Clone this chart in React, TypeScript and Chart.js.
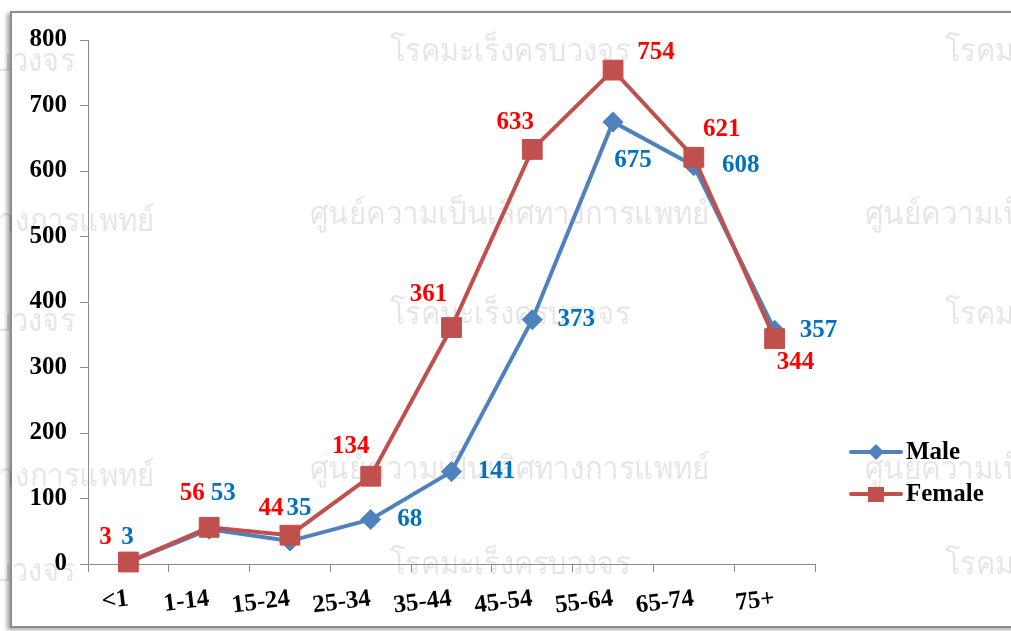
import React, { useEffect, useRef } from "react";
import { Chart, registerables } from "chart.js";

Chart.register(...registerables);

// ---- data ----
const categories = ["<1", "1-14", "15-24", "25-34", "35-44", "45-54", "55-64", "65-74", "75+"];
const maleValues = [3, 53, 35, 68, 141, 373, 675, 608, 357];
const femaleValues = [3, 56, 44, 134, 361, 633, 754, 621, 344];
const yTickValues = [0, 100, 200, 300, 400, 500, 600, 700, 800];
const seriesNames = ["Male", "Female"];

// ---- label placement (style, not data) ----
const maleLabelOffsets = [[-1, -24], [14, -36], [9, -33], [39, 0], [45, 0], [44, 0], [20, 39], [47, 0], [44, 0]];
const femaleLabelOffsets = [[-23, -24], [-17, -34], [-19, -27], [-20, -30], [-23, -33], [-17, -27], [43, -18], [28, -28], [21, 24]];

const MALE_COLOR = "#4F81BD";
const FEMALE_COLOR = "#C0504D";
const MALE_LABEL = "#0070C0";
const FEMALE_LABEL = "#FF0000";
const SERIF = "'Liberation Serif', 'Times New Roman', serif";

const WM_A = "โรคมะเร็งครบวงจร";
const WM_B = "ศูนย์ความเป็นเลิศทางการแพทย์";
const watermarks: [string, number, number, number][] = [
  [WM_A, 390, 52, 240], [WM_A, 945, 52, 240], [WM_A, -165, 62, 240],
  [WM_B, 310, 215, 400], [WM_B, 865, 215, 400], [WM_B, -245, 222, 400],
  [WM_A, 390, 315, 240], [WM_A, 945, 315, 240], [WM_A, -165, 322, 240],
  [WM_B, 310, 470, 400], [WM_B, 865, 470, 400], [WM_B, -245, 477, 400],
  [WM_A, 390, 565, 240], [WM_A, 945, 565, 240], [WM_A, -165, 572, 240],
];

const watermarkPlugin = {
  id: "watermark",
  beforeDraw(chart: any) {
    const ctx = chart.ctx;
    ctx.save();
    ctx.fillStyle = "rgba(0,0,0,0.1)";
    ctx.textBaseline = "middle";
    ctx.textAlign = "left";
    for (const [t, x, y, w] of watermarks) {
      ctx.font = "32px 'Noto Sans', 'DejaVu Sans', sans-serif";
      const m = ctx.measureText(t).width;
      ctx.save();
      ctx.translate(x, y);
      ctx.scale(w / m, 1);
      ctx.fillText(t, 0, 0);
      ctx.restore();
    }
    ctx.restore();
  },
};

const valueLabelPlugin = {
  id: "valueLabels",
  afterDatasetsDraw(chart: any) {
    const ctx = chart.ctx;
    ctx.save();
    ctx.font = `bold 25px ${SERIF}`;
    ctx.textAlign = "center";
    ctx.textBaseline = "middle";
    chart.data.datasets.forEach((ds: any, di: number) => {
      const meta = chart.getDatasetMeta(di);
      const offs = ds.label === "Male" ? maleLabelOffsets : femaleLabelOffsets;
      ctx.fillStyle = ds.label === "Male" ? MALE_LABEL : FEMALE_LABEL;
      meta.data.forEach((pt: any, i: number) => {
        ctx.fillText(String(ds.data[i]), pt.x + offs[i][0], pt.y + offs[i][1]);
      });
    });
    ctx.restore();
  },
};

const legendPlugin = {
  id: "customLegend",
  afterDraw(chart: any) {
    const ctx = chart.ctx;
    ctx.save();
    const items = [
      { name: seriesNames[0], color: MALE_COLOR, y: 452, shape: "diamond" },
      { name: seriesNames[1], color: FEMALE_COLOR, y: 494, shape: "square" },
    ];
    for (const it of items) {
      ctx.strokeStyle = it.color;
      ctx.lineWidth = 4;
      ctx.lineCap = "round";
      ctx.beginPath();
      ctx.moveTo(851, it.y);
      ctx.lineTo(901, it.y);
      ctx.stroke();
      ctx.fillStyle = it.color;
      ctx.beginPath();
      if (it.shape === "diamond") {
        ctx.moveTo(876, it.y - 8);
        ctx.lineTo(884, it.y);
        ctx.lineTo(876, it.y + 8);
        ctx.lineTo(868, it.y);
        ctx.closePath();
      } else {
        ctx.rect(868, it.y - 7, 16, 15);
      }
      ctx.fill();
      ctx.fillStyle = "#000";
      ctx.font = `bold 25px ${SERIF}`;
      ctx.textAlign = "left";
      ctx.textBaseline = "middle";
      ctx.fillText(it.name, 906, it.y + 1);
    }
    ctx.restore();
  },
};

export default function App() {
  const ref = useRef<HTMLCanvasElement | null>(null);

  useEffect(() => {
    if (!ref.current) return;
    const tickFont = { family: SERIF, size: 25, weight: "bold" as const };
    const chart = new Chart(ref.current, {
      type: "line",
      data: {
        labels: categories,
        datasets: [
          {
            label: seriesNames[0],
            data: maleValues,
            borderColor: MALE_COLOR,
            backgroundColor: MALE_COLOR,
            pointBackgroundColor: MALE_COLOR,
            pointBorderColor: MALE_COLOR,
            borderWidth: 4,
            pointStyle: "rectRot",
            pointRadius: 10,
            pointBorderWidth: 1,
            tension: 0,
            order: 2,
            clip: false,
          },
          {
            label: seriesNames[1],
            data: femaleValues,
            borderColor: FEMALE_COLOR,
            backgroundColor: FEMALE_COLOR,
            pointBackgroundColor: FEMALE_COLOR,
            pointBorderColor: FEMALE_COLOR,
            borderWidth: 4,
            pointStyle: "rect",
            pointRadius: 14,
            pointBorderWidth: 1,
            tension: 0,
            order: 1,
            clip: false,
          },
        ],
      },
      options: {
        responsive: false,
        animation: false,
        devicePixelRatio: 1,
        layout: { padding: { top: 40, right: 196, bottom: 0, left: 0 } },
        plugins: {
          legend: { display: false },
          tooltip: { enabled: false },
        },
        scales: {
          x: {
            type: "category",
            offset: true,
            grid: { display: true, offset: true, drawOnChartArea: false, drawTicks: true, tickLength: 8, color: "#8a8a8a" },
            border: { display: true, color: "#8a8a8a", width: 1 },
            ticks: { color: "#000", font: tickFont, minRotation: 7, maxRotation: 7, padding: 12, autoSkip: false },
            afterFit: (s: any) => { s.height = 631 - 564; },
          },
          y: {
            min: 0,
            max: 800,
            afterBuildTicks: (s: any) => { s.ticks = yTickValues.map((v) => ({ value: v })); },
            grid: { display: true, drawOnChartArea: false, drawTicks: true, tickLength: 8, color: "#8a8a8a" },
            border: { display: true, color: "#8a8a8a", width: 1 },
            ticks: { color: "#000", font: tickFont, padding: 13 },
            afterFit: (s: any) => { s.width = 88; },
          },
        },
      },
      plugins: [watermarkPlugin, valueLabelPlugin, legendPlugin],
    });
    return () => chart.destroy();
  }, []);

  return (
    <div style={{ position: "fixed", left: 0, top: 0, width: 1011, height: 631, overflow: "hidden", background: "#fff" }}>
      <div
        style={{
          position: "absolute",
          left: 10,
          top: 11,
          width: 1030,
          height: 613,
          border: "2px solid #8c8c8c",
          boxShadow: "-3px 2px 4px rgba(0,0,0,0.35)",
          background: "#fff",
        }}
      />
      <canvas ref={ref} width={1011} height={631} style={{ position: "absolute", left: 0, top: 0, width: 1011, height: 631 }} />
    </div>
  );
}
